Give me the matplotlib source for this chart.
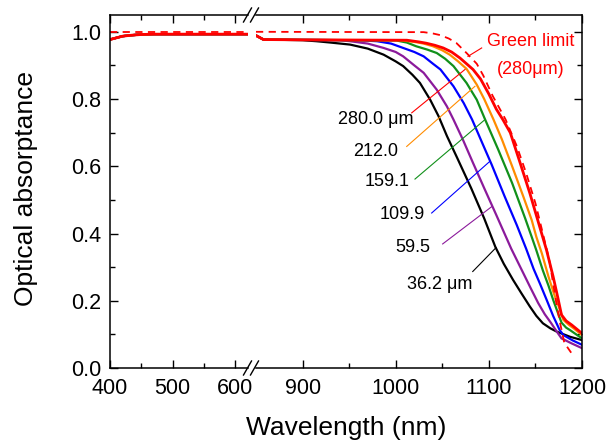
import matplotlib
matplotlib.use("Agg")
import matplotlib.pyplot as plt
from matplotlib.lines import Line2D

plt.rcParams['font.family'] = ['Liberation Sans', 'DejaVu Sans']

# visible range (same for every thickness)
wl_vis = [400, 410, 420, 435, 450, 470, 500, 550, 600, 620]
a_vis = [0.977, 0.982, 0.987, 0.990, 0.992, 0.993, 0.993, 0.993, 0.993, 0.993]
wl_vis_lim = [400, 620]
a_vis_lim = [1.0, 1.0]

# near-IR range, one list per wafer thickness
wl_362 = [850, 858, 880, 900, 915, 930, 951, 970, 987, 1000, 1008, 1018, 1026, 1037, 1046, 1055, 1066, 1081,
          1095, 1107, 1116, 1126, 1135, 1144, 1151, 1158, 1166, 1173, 1187, 1200]
a_362 = [0.989, 0.977, 0.976, 0.975, 0.972, 0.968, 0.962, 0.950, 0.932, 0.912, 0.898, 0.872, 0.848, 0.798, 0.749,
         0.69, 0.625, 0.535, 0.445, 0.36, 0.31, 0.262, 0.222, 0.183, 0.155, 0.133, 0.118, 0.108, 0.093, 0.083]

wl_595 = [850, 858, 900, 940, 951, 970, 987, 1000, 1008, 1020, 1030, 1044, 1055, 1062, 1072, 1083, 1095, 1108,
          1124, 1137, 1145, 1153, 1160, 1167, 1173, 1178, 1189, 1200]
a_595 = [0.989, 0.977, 0.976, 0.975, 0.972, 0.965, 0.952, 0.94, 0.927, 0.90, 0.878, 0.828, 0.778, 0.739, 0.68,
         0.61, 0.535, 0.455, 0.355, 0.282, 0.237, 0.193, 0.16, 0.133, 0.108, 0.088, 0.073, 0.059]

wl_1099 = [850, 858, 900, 960, 980, 995, 1008, 1020, 1030, 1040, 1048, 1062, 1073, 1082, 1092, 1103, 1117, 1130,
           1140, 1148, 1155, 1162, 1169, 1176, 1180, 1190, 1200]
a_1099 = [0.989, 0.977, 0.976, 0.975, 0.972, 0.965, 0.952, 0.94, 0.927, 0.905, 0.888, 0.838, 0.788, 0.739, 0.675,
          0.605, 0.51, 0.425, 0.355, 0.295, 0.25, 0.203, 0.155, 0.113, 0.098, 0.082, 0.069]

wl_1591 = [850, 858, 900, 1001, 1012, 1022, 1034, 1044, 1053, 1062, 1076, 1087, 1096, 1110, 1125, 1139, 1146, 1151,
           1158, 1164, 1169, 1174, 1178, 1183, 1187, 1200]
a_1591 = [0.989, 0.977, 0.976, 0.974, 0.968, 0.957, 0.947, 0.937, 0.92, 0.898, 0.848, 0.798, 0.739, 0.65, 0.55,
          0.445, 0.39, 0.35, 0.29, 0.245, 0.203, 0.165, 0.135, 0.12, 0.113, 0.088]

wl_2120 = [850, 858, 900, 1005, 1020, 1030, 1040, 1050, 1058, 1067, 1076, 1087, 1095, 1105, 1114, 1125, 1137, 1146,
           1151, 1157, 1164, 1170, 1175, 1180, 1186, 1191, 1200]
a_2120 = [0.989, 0.977, 0.976, 0.975, 0.97, 0.965, 0.957, 0.945, 0.932, 0.912, 0.89, 0.843, 0.80, 0.739, 0.68,
          0.60, 0.51, 0.44, 0.39, 0.34, 0.272, 0.22, 0.183, 0.143, 0.128, 0.118, 0.098]

wl_2800 = [850, 858, 900, 1012, 1025, 1033, 1042, 1051, 1060, 1069, 1076, 1083, 1091, 1100, 1108, 1115, 1123, 1133,
           1144, 1153, 1162, 1169, 1174, 1178, 1183, 1189, 1200]
a_2800 = [0.989, 0.977, 0.976, 0.975, 0.97, 0.966, 0.96, 0.952, 0.94, 0.922, 0.905, 0.888, 0.86, 0.815, 0.77,
          0.739, 0.70, 0.615, 0.52, 0.435, 0.35, 0.272, 0.21, 0.158, 0.14, 0.128, 0.103]

wl_lim = [850, 1030, 1040, 1048, 1057, 1065, 1076, 1087, 1094, 1104, 1118, 1130, 1140, 1150, 1158, 1165, 1172,
          1176, 1181, 1191]
a_lim = [1.0, 0.999, 0.995, 0.99, 0.98, 0.967, 0.937, 0.905, 0.87, 0.81, 0.739, 0.66, 0.58, 0.49, 0.40, 0.32,
         0.20, 0.14, 0.075, 0.035]

series = [
    (wl_362, a_362, 'black', '36.2 μm'),
    (wl_595, a_595, '#8b1a9b', '59.5'),
    (wl_1099, a_1099, '#0000ff', '109.9'),
    (wl_1591, a_1591, '#11901a', '159.1'),
    (wl_2120, a_2120, '#ff8c00', '212.0'),
    (wl_2800, a_2800, '#ff0000', '280.0 μm'),
]

# label text position and leader line (text x, text y, line start, line end)
label_pos = {
    '280.0 μm': (1018.6, 0.739, (1017.2, 0.759), (1074.4, 0.888)),
    '212.0': (1002.5, 0.643, (1011.8, 0.659), (1085.1, 0.838)),
    '159.1': (1015.3, 0.554, (1020.7, 0.562), (1095.9, 0.739)),
    '109.9': (1031.4, 0.456, (1038.6, 0.461), (1101.2, 0.615)),
    '59.5': (1036.8, 0.357, (1050.4, 0.369), (1103.1, 0.48)),
    '36.2 μm': (1081.9, 0.247, (1082.7, 0.287), (1107.7, 0.358)),
}

W, H = 606, 440
fig = plt.figure(figsize=(W / 100, H / 100), dpi=100)
bottom, top = 368, 15
axL = fig.add_axes([110 / W, (H - bottom) / H, 138 / W, (bottom - top) / H])
axR = fig.add_axes([256 / W, (H - bottom) / H, 326 / W, (bottom - top) / H])

for wl, a, c, name in series:
    lw = 2.0 if c == '#ff0000' else 1.6
    axL.plot(wl_vis, a_vis, color=c, lw=lw)
    axR.plot(wl, a, color=c, lw=lw)
    tx, ty, p0, p1 = label_pos[name]
    axR.plot([p0[0], p1[0]], [p0[1], p1[1]], color=c, lw=0.8)
    axR.text(tx, ty, name, ha='right', va='center', fontsize=13)

axL.plot(wl_vis_lim, a_vis_lim, color='#ff0000', lw=1.3, dashes=(4, 3))
axR.plot(wl_lim, a_lim, color='#ff0000', lw=1.3, dashes=(4, 3))
axR.plot([1077.6, 1092.3], [0.927, 0.952], color='#ff0000', lw=0.8)
axR.text(1098, 0.971, 'Green limit', color='#ff0000', ha='left', va='center', fontsize=13)
axR.text(1145, 0.888, '(280μm)', color='#ff0000', ha='center', va='center', fontsize=13)

for ax in (axL, axR):
    ax.set_ylim(0, 1.05)
    ax.tick_params(which='both', direction='in', top=True, labelsize=15.5)
    ax.tick_params(axis='x', pad=7)
    ax.tick_params(axis='y', pad=6.5)
    ax.tick_params(which='major', length=6, width=1)
    ax.tick_params(which='minor', length=3.5, width=1)
    for s in ax.spines.values():
        s.set_linewidth(1.1)

axL.set_xlim(400, 620)
axL.set_xticks([400, 500, 600])
axL.set_xticks([450, 550], minor=True)
axL.set_yticks([0, 0.2, 0.4, 0.6, 0.8, 1.0])
axL.set_yticks([0.1, 0.3, 0.5, 0.7, 0.9], minor=True)
axL.set_yticklabels(['0.0', '0.2', '0.4', '0.6', '0.8', '1.0'])
axL.spines['right'].set_visible(False)
axL.tick_params(which='both', right=False)

axR.set_xlim(850, 1200)
axR.set_xticks([900, 1000, 1100, 1200])
axR.set_xticks([950, 1050, 1150], minor=True)
axR.set_yticks([0, 0.2, 0.4, 0.6, 0.8, 1.0])
axR.set_yticks([0.1, 0.3, 0.5, 0.7, 0.9], minor=True)
axR.spines['left'].set_visible(False)
axR.tick_params(which='both', left=False, right=True, labelleft=False)

fig.text(346 / W, 1 - 428 / H, 'Wavelength (nm)', ha='center', va='center', fontsize=19)
fig.text(26 / W, 1 - 188 / H, 'Optical absorptance', ha='center', va='center', rotation=90, fontsize=19)

# break marks on top and bottom spines
for yc in (top, bottom):
    for xc in (247.5, 254.5):
        fig.add_artist(Line2D([(xc - 4) / W, (xc + 4) / W],
                              [1 - (yc + 7) / H, 1 - (yc - 7) / H],
                              color='black', lw=1.0, transform=fig.transFigure))

fig.savefig('out.png', dpi=100)
